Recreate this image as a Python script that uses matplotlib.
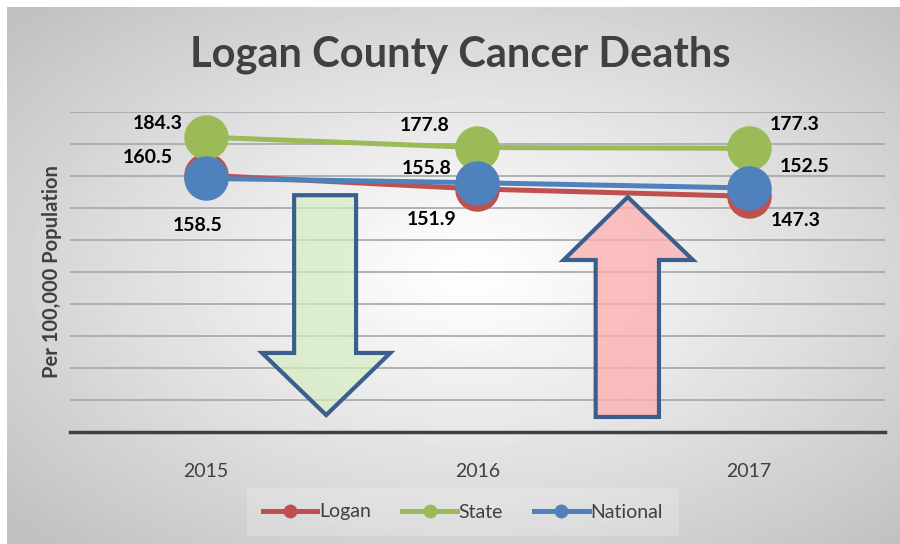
import numpy as np
import matplotlib.pyplot as plt
from matplotlib.patches import Polygon
from matplotlib.lines import Line2D

# データ
years = ['2015', '2016', '2017']
logan = [160.5, 151.9, 147.3]
state = [184.3, 177.8, 177.3]
national = [158.5, 155.8, 152.5]

series_names = ['Logan', 'State', 'National']
series_colors = ['#c0504d', '#9bbb59', '#4f81bd']

# ラベル位置 (pixel offset)
label_offsets = {
    'Logan': [(-58, 18), (-46, -31), (47, -24)],
    'State': [(-48, 14), (-53, 22), (45, 24)],
    'National': [(-8, -47), (-51, 14), (55, 21)],
}

plt.rcParams['font.family'] = ['Lato', 'DejaVu Sans']

fig = plt.figure(figsize=(9, 5.44), dpi=100)
fig.patch.set_facecolor('white')

# 背景グラデーション
bg = fig.add_axes([7 / 900, 0, 893 / 900, 537 / 544])
H, W = 537, 893
yy, xx = np.mgrid[0:H, 0:W]
dx = (xx - 463) / (W / 2)
dy = (yy - 265) / (H / 2)
d = np.clip(np.sqrt(dx ** 2 + dy ** 2) / np.sqrt(2), 0, 1)
v = 1 - 0.25 * d ** 1.1
bg.imshow(v, cmap='gray', vmin=0, vmax=1, aspect='auto', interpolation='bilinear')
bg.set_axis_off()

ax = fig.add_axes([70 / 900, (544 - 432) / 544, 815 / 900, 320 / 544])
ax.set_facecolor('none')
x = np.arange(1, len(years) + 1)
ax.set_xlim(0.5, len(years) + 0.5)
ax.set_ylim(0, 200)
ax.set_yticks(np.arange(0, 201, 20))
ax.yaxis.grid(True, color='#a6a6a6', linewidth=1.2)
ax.set_yticklabels([])
ax.tick_params(axis='y', length=0, pad=0)
ax.tick_params(axis='x', length=0, pad=22, labelsize=14, labelcolor='#404040')
ax.set_xticks(x)
ax.set_xticklabels(years)
for s in ['top', 'right', 'left']:
    ax.spines[s].set_visible(False)
ax.spines['bottom'].set_color('#404040')
ax.spines['bottom'].set_linewidth(2.5)
ax.set_axisbelow(True)

# 矢印
down = np.array([[1.325, 148], [1.553, 148], [1.553, 49.4], [1.679, 49.4],
                 [1.443, 10.6], [1.207, 49.4], [1.325, 49.4]])
up = np.array([[2.435, 9.4], [2.668, 9.4], [2.668, 107.5], [2.793, 107.5],
               [2.553, 146.9], [2.317, 107.5], [2.435, 107.5]])
ax.add_patch(Polygon(down, closed=True, facecolor=(0.84, 0.93, 0.76, 0.7),
                     edgecolor='#3b5f8c', linewidth=3, joinstyle='miter', zorder=2))
ax.add_patch(Polygon(up, closed=True, facecolor=(1.0, 0.68, 0.68, 0.75),
                     edgecolor='#3b5f8c', linewidth=3, joinstyle='miter', zorder=2))

data = {'Logan': logan, 'State': state, 'National': national}
for i, (name, col) in enumerate(zip(series_names, series_colors)):
    ax.plot(x, data[name], color=col, linewidth=3.6, marker='o', markersize=31,
            zorder=3 + i, clip_on=False)
    for j, val in enumerate(data[name]):
        ax.annotate(f'{val:.1f}', (x[j], val), xytext=label_offsets[name][j],
                    textcoords='offset pixels', ha='center', va='center',
                    fontsize=14, fontweight='bold', color='black', zorder=10)

ax.set_ylabel('Per 100,000 Population', fontsize=14.5, fontweight='bold',
              color='#404040', labelpad=6)

fig.text(460 / 900, 1 - 55 / 544, 'Logan County Cancer Deaths', ha='center', va='center',
         fontsize=30, fontweight='bold', color='#404040')

handles = [Line2D([0], [0], color=c, linewidth=3.6, marker='o', markersize=9)
           for c in series_colors]
leg = fig.legend(handles, series_names, loc='center', bbox_to_anchor=(463 / 900, 1 - 512 / 544),
                 ncol=3, frameon=True, framealpha=0.2, fontsize=14, handlelength=2.8,
                 columnspacing=1.6, handletextpad=0.1, borderpad=0.5)
leg.get_frame().set_facecolor('white')
leg.get_frame().set_edgecolor('none')
leg.get_frame().set_boxstyle('square')
for t in leg.get_texts():
    t.set_color('#404040')

fig.savefig('out.png', dpi=100)
